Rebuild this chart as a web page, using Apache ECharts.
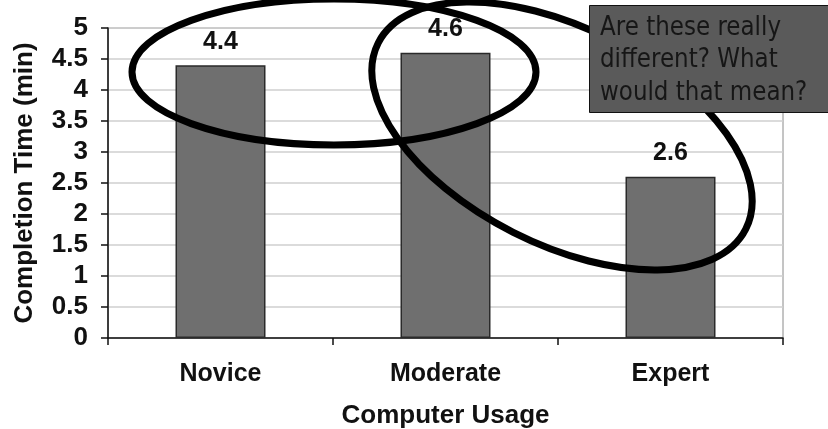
<!DOCTYPE html>
<html>
<head>
<meta charset="utf-8">
<style>
  html, body { margin: 0; padding: 0; background: #ffffff; }
  #chart { width: 828px; height: 429px; }
</style>
<script src="https://cdn.jsdelivr.net/npm/echarts@6/dist/echarts.min.js"></script>
</head>
<body>
<div id="chart"></div>
<script>
// Mean task completion time by level of computer usage
const categories = ['Novice', 'Moderate', 'Expert'];
const completionTimes = [4.4, 4.6, 2.6];
const calloutLines = ['Are these really', 'different? What', 'would that mean?'];

const axisFont = 'Liberation Sans, Arial, sans-serif';
const chart = echarts.init(document.getElementById('chart'), null, { renderer: 'canvas' });

chart.setOption({
  animation: false,
  backgroundColor: '#ffffff',
  grid: {
    left: 108, top: 28, width: 675, height: 310,
    containLabel: false,
    outerBoundsMode: 'none',
    show: true, borderColor: '#8a8a8a', borderWidth: 1, backgroundColor: 'transparent'
  },
  xAxis: {
    type: 'category',
    data: categories,
    name: 'Computer Usage',
    nameLocation: 'middle',
    nameGap: 65,
    nameTextStyle: { fontFamily: axisFont, fontWeight: 'bold', fontSize: 26, color: '#111' },
    axisLine: { lineStyle: { color: '#111', width: 1.5 } },
    axisTick: { show: true, inside: false, length: 7, lineStyle: { color: '#111', width: 1.5 } },
    axisLabel: { margin: 24, fontFamily: axisFont, fontWeight: 'bold', fontSize: 25, color: '#111' },
    splitLine: { show: false }
  },
  yAxis: {
    type: 'value',
    min: 0, max: 5, interval: 0.5,
    name: 'Completion Time (min)',
    nameLocation: 'middle',
    nameGap: 70,
    nameTextStyle: { fontFamily: axisFont, fontWeight: 'bold', fontSize: 26, color: '#111' },
    axisLine: { show: true, lineStyle: { color: '#111', width: 1.5 } },
    axisTick: { show: true, inside: false, length: 7, lineStyle: { color: '#111', width: 1.5 } },
    axisLabel: { margin: 20, fontFamily: axisFont, fontWeight: 'bold', fontSize: 26, color: '#111' },
    splitLine: { show: true, lineStyle: { color: '#cfcfcf', width: 1.5 } }
  },
  series: [{
    type: 'bar',
    data: completionTimes,
    barWidth: '40%',
    z: 2,
    itemStyle: { color: '#6f6f6f', borderColor: '#2a2a2a', borderWidth: 1.5 },
    label: {
      show: true, position: 'top', distance: 11,
      fontFamily: axisFont, fontWeight: 'bold', fontSize: 25, color: '#111',
      formatter: p => p.value.toFixed(1)
    }
  }],
  graphic: [
    // ring around the novice and moderate values
    {
      type: 'ellipse', z: 50,
      shape: { cx: 334, cy: 72, rx: 202, ry: 73 },
      style: { fill: 'none', stroke: '#000', lineWidth: 7 }
    },
    // tilted ring around the moderate and expert values
    {
      type: 'ellipse', z: 50,
      x: 562, y: 136,
      rotation: -26.85 * Math.PI / 180,
      shape: { cx: 0, cy: 0, rx: 206, ry: 108 },
      style: { fill: 'none', stroke: '#000', lineWidth: 7 }
    },
    // question callout
    {
      type: 'rect', z: 60,
      shape: { x: 589.5, y: 5.5, width: 250, height: 107 },
      style: { fill: '#5a5a5a', stroke: '#111', lineWidth: 1 }
    }
  ].concat(calloutLines.map((t, i) => ({
    type: 'text', z: 61,
    x: 600, y: 28 + i * 32.5,
    scaleX: 0.885,
    style: {
      text: t, fill: '#161616',
      font: '26px "DejaVu Sans", Verdana, sans-serif',
      verticalAlign: 'middle', textVerticalAlign: 'middle'
    }
  })))
});
</script>
</body>
</html>
